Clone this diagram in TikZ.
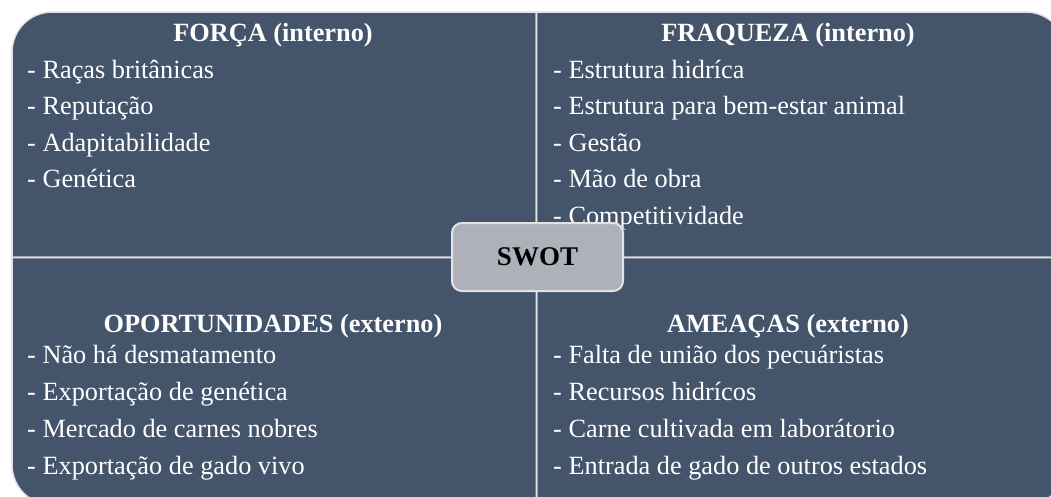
\documentclass[tikz,border=0pt]{standalone}
\usepackage{fontspec}
\setmainfont{Liberation Serif}
\definecolor{quadfill}{HTML}{44546A}
\definecolor{edgegray}{HTML}{E3E3E3}
\definecolor{swotfill}{HTML}{AEB1BA}
\begin{document}
\begin{tikzpicture}[x=1pt,y=-1pt,
  quad/.style={fill=quadfill,draw=edgegray,line width=1.6pt,line join=round},
  title/.style={text=white,font=\fontsize{26.3}{30}\selectfont\bfseries,anchor=base,inner sep=0pt},
  item/.style={text=white,font=\fontsize{26.3}{30}\selectfont,anchor=base west,inner sep=0pt},
  swotbox/.style={fill=swotfill,draw=edgegray,line width=2pt,rounded corners=10pt}]
\useasboundingbox (0,0) rectangle (1051,496);
\clip (0,0) rectangle (1051,496);
\def\L{12}\def\T{12}\def\R{1066}\def\B{505}\def\r{40}
\def\cx{536.5}\def\cy{257.5}
% quadrants
\path[quad] (\L,\cy) -- (\L,\T+\r) arc[start angle=180,end angle=270,radius=\r] -- (\cx,\T) -- (\cx,\cy) -- cycle;
\path[quad] (\cx,\T) -- (\R-\r,\T) arc[start angle=270,end angle=360,radius=\r] -- (\R,\cy) -- (\cx,\cy) -- cycle;
\path[quad] (\cx,\cy) -- (\R,\cy) -- (\R,\B-\r) arc[start angle=0,end angle=90,radius=\r] -- (\cx,\B) -- cycle;
\path[quad] (\L,\cy) -- (\cx,\cy) -- (\cx,\B) -- (\L+\r,\B) arc[start angle=90,end angle=180,radius=\r] -- cycle;
% titles
\node[title] (tS) at (273,41) {FORÇA (interno)};
\node[title] (tW) at (788,41) {FRAQUEZA (interno)};
\node[title] (tO) at (273,332) {OPORTUNIDADES (externo)};
\node[title] (tT) at (788,332) {AMEAÇAS (externo)};
% strengths
\node[item] (s1) at (27,78) {- Raças britânicas};
\node[item] (s2) at (27,114.5) {- Reputação};
\node[item] (s3) at (27,151) {- Adapitabilidade};
\node[item] (s4) at (27,187.5) {- Genética};
% weaknesses
\node[item] (w1) at (553,78) {- Estrutura hidríca};
\node[item] (w2) at (553,114.5) {- Estrutura para bem-estar animal};
\node[item] (w3) at (553,151) {- Gestão};
\node[item] (w4) at (553,187.5) {- Mão de obra};
\node[item] (w5) at (553,224) {- Competitividade};
% opportunities
\node[item] (o1) at (27,363) {- Não há desmatamento};
\node[item] (o2) at (27,400) {- Exportação de genética};
\node[item] (o3) at (27,437) {- Mercado de carnes nobres};
\node[item] (o4) at (27,474) {- Exportação de gado vivo};
% threats
\node[item] (t1) at (553,363) {- Falta de união dos pecuáristas};
\node[item] (t2) at (553,400) {- Recursos hidrícos};
\node[item] (t3) at (553,437) {- Carne cultivada em laborátorio};
\node[item] (t4) at (553,474) {- Entrada de gado de outros estados};
% center
\draw[swotbox] (452,223) rectangle (623,291);
\node[font=\fontsize{27}{30}\selectfont\bfseries,text=black,inner sep=0pt,anchor=base] (swot) at (537.5,265) {SWOT};
\end{tikzpicture}
\end{document}
